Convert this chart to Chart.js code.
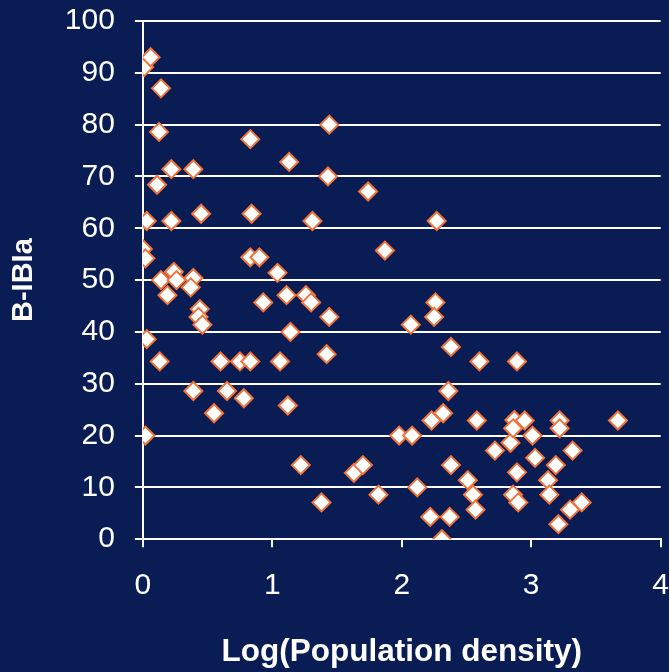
<!DOCTYPE html>
<html>
<head>
<meta charset="utf-8">
<title>B-IBIa vs Log(Population density)</title>
<script src="https://cdn.jsdelivr.net/npm/chart.js@4.4.0/dist/chart.umd.min.js"></script>
<style>
  html, body { margin: 0; padding: 0; background: #0a1c54; overflow: hidden; }
  #frame { width: 669px; height: 672px; position: relative; overflow: hidden; background: #0a1c54; }
  /* o canvas fica um pouco maior que a janela para a área do gráfico cair no lugar certo */
  #wrap { position: absolute; left: 0; top: -17px; width: 690px; height: 689px; }
</style>
</head>
<body>
<div id="frame"><div id="wrap"><canvas id="scatter-chart"></canvas></div></div>
<script>
// Log(Population density) de cada ponto
const logDensity = [
  0.01, 0.06, 0.14, 0.125, 0.11, 0.22, 0.39, 0.03, 0.22, 0.45,
  0.00, 0.02, 0.14, 0.24, 0.26, 0.19, 0.39, 0.37, 0.44, 0.43, 0.46,
  0.03, 0.13, 0.39, 0.55, 0.60, 0.65, 0.75, 0.78, 0.83, 0.02,
  0.83, 0.84, 0.83, 0.90, 0.93, 1.04, 1.11, 1.13, 1.14, 1.06, 1.12, 1.22, 1.26, 1.30, 1.31,
  1.44, 1.43, 1.44, 1.42, 1.38, 1.74, 1.87, 1.63, 1.70, 1.82,
  1.98, 2.08, 2.07, 2.12, 2.27, 2.26, 2.25, 2.38, 2.36, 2.32, 2.23, 2.38, 2.22, 2.37, 2.31,
  2.51, 2.55, 2.57, 2.58, 2.60, 2.72, 2.84, 2.87, 2.86, 2.95, 2.89, 2.89, 2.86, 2.90,
  3.01, 3.03, 3.13, 3.14, 3.19, 3.22, 3.22, 3.32, 3.21, 3.30, 3.39, 3.67
];

// B-IBIa de cada ponto
const bibia = [
  91.1, 93.0, 87.0, 78.6, 68.4, 71.4, 71.4, 61.4, 61.4, 62.8,
  56.0, 54.2, 50.0, 51.6, 50.0, 47.1, 50.4, 48.6, 44.4, 42.9, 41.4,
  38.6, 34.3, 28.6, 24.3, 34.3, 28.6, 34.3, 27.2, 34.3, 20.0,
  77.2, 62.8, 54.4, 54.4, 45.7, 51.4, 47.1, 72.8, 40.0, 34.3, 25.8, 14.3, 47.1, 45.7, 61.4,
  80.0, 70.0, 42.9, 35.7, 7.1, 67.1, 55.7, 12.8, 14.3, 8.6,
  20.0, 20.0, 41.4, 10.0, 61.4, 45.7, 42.9, 37.1, 28.6, 24.3, 22.9, 14.3, 4.3, 4.3, 0.0,
  11.4, 8.6, 5.7, 22.9, 34.3, 17.1, 18.6, 23.0, 21.4, 22.9, 34.3, 12.9, 8.6, 7.1,
  20.0, 15.7, 11.4, 8.6, 14.3, 22.9, 21.4, 17.1, 2.9, 5.7, 7.1, 22.9
];

// Limites dos eixos
const xTicks = [0, 1, 2, 3, 4];
const yTicks = [0, 10, 20, 30, 40, 50, 60, 70, 80, 90, 100];

const points = logDensity.map((x, i) => ({ x: x, y: bibia[i] }));

Chart.defaults.font.family = "'Liberation Sans', Arial, sans-serif";
Chart.defaults.color = '#ffffff';

const scatterConfig = {
  type: 'scatter',
  data: {
    datasets: [{
      label: 'B-IBIa',
      data: points,
      pointStyle: 'rectRot',
      pointRadius: 9,
      pointHoverRadius: 9,
      borderWidth: 2,
      backgroundColor: '#ffffff',
      borderColor: '#f2733a'
    }]
  },
  options: {
    responsive: true,
    maintainAspectRatio: false,
    animation: false,
    plugins: {
      legend: { display: false },
      tooltip: { enabled: false }
    },
    scales: {
      x: {
        type: 'linear',
        min: xTicks[0],
        max: xTicks[xTicks.length - 1],
        ticks: { stepSize: 1, color: '#ffffff', font: { size: 30 }, padding: 21 },
        grid: { drawOnChartArea: false, drawTicks: true, tickLength: 8, color: '#ffffff', lineWidth: 2 },
        border: { color: '#ffffff', width: 2 },
        title: {
          display: true,
          text: 'Log(Population density)',
          color: '#ffffff',
          font: { size: 31.5, weight: 'bold' },
          padding: { top: 8, bottom: 1 }
        }
      },
      y: {
        min: yTicks[0],
        max: yTicks[yTicks.length - 1],
        ticks: { stepSize: 10, color: '#ffffff', font: { size: 30 }, padding: 20 },
        grid: { color: '#ffffff', lineWidth: 2, tickLength: 8 },
        border: { color: '#ffffff', width: 2 },
        title: {
          display: true,
          text: 'B-IBIa',
          color: '#ffffff',
          font: { size: 29, weight: 'bold' },
          padding: { top: 7, bottom: 3 }
        }
      }
    }
  }
};

const scatterChart = new Chart(
  document.getElementById('scatter-chart'),
  scatterConfig
);
</script>
</body>
</html>
